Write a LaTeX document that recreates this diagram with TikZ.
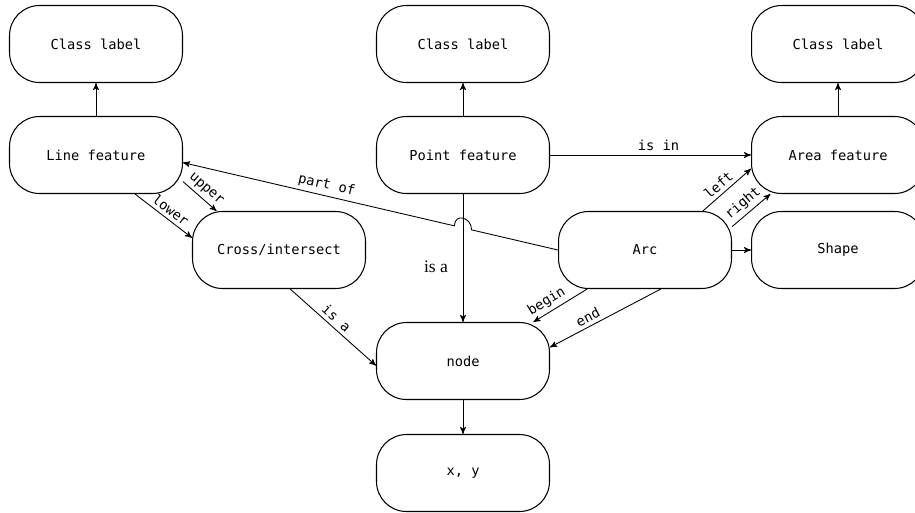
\documentclass[tikz,border=0pt]{standalone}
\usepackage{fontspec}
\setmainfont{Liberation Serif}
\setmonofont{DejaVu Sans Mono}
\usetikzlibrary{positioning,arrows,calc}
\tikzset{
box/.style={draw, line width=0.6pt, rectangle, rounded corners=0.6cm, minimum width=3.46cm, minimum height=1.54cm, inner sep=0pt, font=\ttfamily\fontsize{7.8}{9}\selectfont},
link/.style={->, >=stealth', line width=0.5pt},
lbl/.style={font=\ttfamily\fontsize{7.8}{9}\selectfont, sloped, above, inner sep=2pt}
}

\begin{document}
\begin{tikzpicture}[x=0.02cm, y=-0.02cm]
\useasboundingbox (0,0) rectangle (915,512);

% class labels
\node[box] (cl1) at (96,44) {Class label};
\node[box] (cl2) at (463,44) {Class label};
\node[box] (cl3) at (838,44) {Class label};

% features
\node[box] (lf) at (96,155) {Line feature};
\node[box] (pf) at (463,155) {Point feature};
\node[box] (af) at (838,155) {Area feature};

\node[box] (ci) at (279,250) {Cross/intersect};
\node[box] (arc) at (645,250) {Arc};
\node[box] (sh) at (838,250) {Shape};

\node[box] (nd) at (463,361) {node};
\node[box] (xy) at (463,473) {x, y};

\draw[link] (lf.north) -- (cl1.south);
\draw[link] (pf.north) -- (cl2.south);
\draw[link] (af.north) -- (cl3.south);

\draw[link] (pf.east) -- (af.west) node[lbl, pos=0.54] {is in};
\draw[link] (pf.south) -- (nd.north)
  node[pos=0.57, left=5pt, font=\rmfamily\fontsize{10}{12}\selectfont] {is a};

% part of, hopping over the is a line
\coordinate (hop) at (intersection of arc.west--lf.-5 and pf.south--nd.north);
\draw[link] (arc.west) -- ($(hop)!5pt!(arc.west)$)
  .. controls +(0,-13) and +(0,-13) .. ($(hop)!5pt!(lf.-5)$)
  -- (lf.-5) node[lbl, pos=0.48] {part of};

\draw[link] (lf.-17) -- (ci.148) node[lbl, pos=0.5] {upper};
\draw[link] (lf.-45) -- (ci.172) node[lbl, pos=0.53] {lower};
\draw[link] (ci.-74) -- (nd.183) node[lbl, pos=0.47] {is a};

\draw[link] (arc.214) -- (nd.29) node[lbl, pos=0.65] {begin};
\draw[link] (arc.-68) -- (nd.9) node[lbl, pos=0.62] {end};
\draw[link] (arc.34) -- (af.189) node[lbl, pos=0.45] {left};
\draw[link] (arc.15) -- (af.210) node[lbl, pos=0.47] {right};
\draw[link] (arc.east) -- (sh.west);

\draw[link] (nd.south) -- (xy.north);
\end{tikzpicture}
\end{document}
